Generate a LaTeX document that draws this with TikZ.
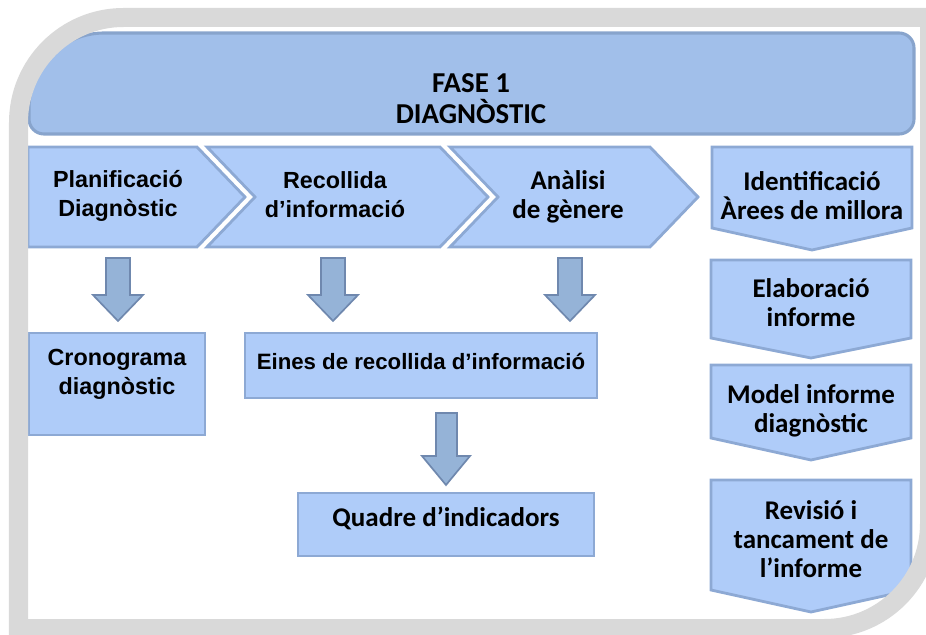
\documentclass[tikz,border=0pt]{standalone}
\usepackage{fontspec}
\setmainfont{Liberation Sans}
\newfontfamily\calibri{Carlito}
\usetikzlibrary{calc}

\definecolor{framegrey}{HTML}{D9D9D9}
\definecolor{bannerfill}{HTML}{A1BFEA}
\definecolor{bannerline}{HTML}{88A4CC}
\definecolor{stagefill}{HTML}{AFCCF9}
\definecolor{stageline}{HTML}{8DA9D4}
\definecolor{arrowfill}{HTML}{95B3D7}
\definecolor{arrowline}{HTML}{6F88AE}

\begin{document}
\begin{tikzpicture}[x=0.025cm, y=-0.025cm,
    stagebox/.style={draw=stageline, fill=stagefill, line width=2pt},
    arialtext/.style={align=center, font=\fontsize{16.6}{20.6}\selectfont\bfseries},
    calibritext/.style={align=center, font=\calibri\fontsize{19.2}{20.6}\selectfont\bfseries},
    downarrow/.style={draw=arrowline, fill=arrowfill, line width=1.2pt}]
    \useasboundingbox (0,0) rectangle (926,635);
    \clip (0,0) rectangle (926,635);

    % Title banner
    \draw[draw=bannerline, fill=bannerfill, line width=2.2pt]
        (29,119) -- (29,108) arc[start angle=180, end angle=270, radius=75]
        -- (899,33) arc[start angle=270, end angle=360, radius=15]
        -- (914,119) arc[start angle=0, end angle=90, radius=15]
        -- (44,134) arc[start angle=90, end angle=180, radius=15] -- cycle;
    \node[calibritext, font=\calibri\fontsize{20.5}{22}\selectfont\bfseries] (fase) at (471,99) {FASE 1\\DIAGNÒSTIC};

    % Process chevrons
    \draw[stagebox] (28,147) -- (197,147) -- (245,197) -- (197,247) -- (28,247) -- cycle;
    \draw[stagebox] (207,147) -- (440,147) -- (488,197) -- (440,247) -- (207,247) -- (255,197) -- cycle;
    \draw[stagebox] (450,147) -- (650,147) -- (698,197) -- (650,247) -- (450,247) -- (498,197) -- cycle;
    \node[arialtext] (plan) at (118,196) {Planificació\\Diagnòstic};
    \node[arialtext] (recollida) at (335,195) {Recollida\\d’informació};
    \node[calibritext] (analisi) at (568,197) {Anàlisi\\de gènere};

    % Right column, pointing down
    \draw[stagebox] (712,147) -- (912,147) -- (912,228) -- (812,250) -- (712,228) -- cycle;
    \draw[stagebox] (711,260) -- (911,260) -- (911,338) -- (811,358) -- (711,338) -- cycle;
    \draw[stagebox] (711,365) -- (911,365) -- (911,438) -- (811,460) -- (711,438) -- cycle;
    \draw[stagebox] (711,480) -- (911,480) -- (911,590) -- (811,612) -- (711,590) -- cycle;
    \node[calibritext] (ident) at (812,196) {Identificació\\Àrees de millora};
    \node[calibritext] (elab) at (811,303) {Elaboració\\informe};
    \node[calibritext] (model) at (811,411) {Model informe\\diagnòstic};
    \node[calibritext] (revisio) at (811,539) {Revisió i\\tancament de\\l’informe};

    % Result boxes
    \draw[stagebox] (29,333) rectangle (205,435);
    \draw[stagebox] (245,333) rectangle (597,398);
    \draw[stagebox] (298,493) rectangle (594,556);
    \node[arialtext] (crono) at (117,374) {Cronograma\\diagnòstic};
    \node[arialtext, font=\fontsize{15.8}{18}\selectfont\bfseries] (eines) at (421,361) {Eines de recollida d’informació};
    \node[calibritext] (quadre) at (446,518) {Quadre d’indicadors};

    % Block arrows
    \foreach \x in {118,333,570}
        \draw[downarrow] (\x-12,258) -- (\x+12,258) -- (\x+12,295) -- (\x+25,295)
            -- (\x,321) -- (\x-25,295) -- (\x-12,295) -- cycle;
    \draw[downarrow] (436,413) -- (457,413) -- (457,456) -- (470,456)
        -- (446,485) -- (422,456) -- (436,456) -- cycle;

    % Grey frame
    \draw[framegrey, line width=0.475cm]
        (18.5,628.5) -- (18.5,122.5) arc[start angle=180, end angle=270, radius=105]
        -- (929.5,17.5) -- (929.5,523.5) arc[start angle=0, end angle=90, radius=105]
        -- cycle;
\end{tikzpicture}
\end{document}
